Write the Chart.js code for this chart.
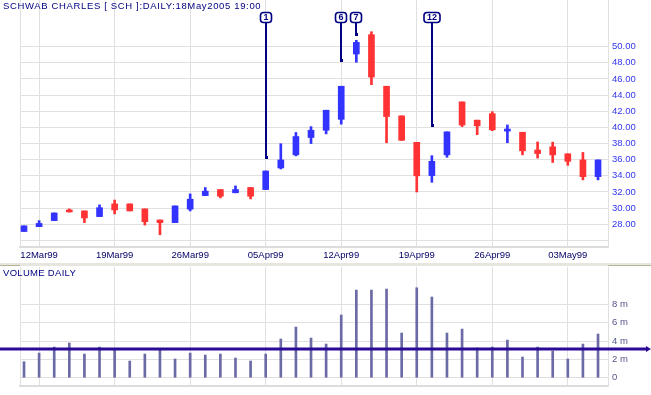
<!DOCTYPE html>
<html>
<head>
<meta charset="utf-8">
<script src="https://cdn.jsdelivr.net/npm/chart.js@4/dist/chart.umd.min.js"></script>
<style>
  body { margin: 0; background: #fff; }
  #wrap { position: relative; width: 651px; height: 395px; overflow: hidden; }
  #price { position: absolute; left: 0; top: 0; }
  #volume { position: absolute; left: 0; top: 263px; }
</style>
</head>
<body>
<div id="wrap">
  <canvas id="price" width="651" height="263"></canvas>
  <canvas id="volume" width="651" height="132"></canvas>
</div>
<script>
// dados (11Mar99 .. 05May99)
const opens  = [27.1, 27.7, 28.45, 29.74, 29.65, 28.95, 30.52, 30.52, 29.9, 28.53,
                28.2, 29.87, 31.55, 32.3, 31.9, 32.55, 32.3, 34.98, 36.6, 38.75,
                39.65, 41.0, 49.1, 51.49, 45.1, 41.43, 38.15, 34.03, 36.6, 43.16,
                40.9, 41.7, 39.54, 39.4, 37.2, 37.6, 36.73, 35.97, 33.9];
const highs  = [27.8, 28.45, 29.4, 29.9, 29.65, 30.4, 31.0, 30.52, 29.9, 28.53,
                30.27, 31.76, 32.55, 32.3, 32.75, 32.55, 34.6, 37.98, 39.37, 40.1,
                42.13, 45.1, 50.8, 51.86, 45.1, 41.43, 38.15, 36.5, 39.45, 43.16,
                40.9, 41.95, 40.3, 39.4, 38.2, 38.17, 36.73, 36.9, 35.97];
const lows   = [27.1, 27.7, 28.45, 29.5, 28.2, 28.95, 29.28, 29.65, 27.9, 26.7,
                28.2, 29.65, 31.55, 31.27, 31.9, 31.14, 32.3, 34.85, 36.47, 38.0,
                39.2, 40.4, 48.07, 45.3, 38.1, 38.4, 32.0, 33.2, 36.3, 40.1,
                39.1, 39.6, 38.1, 36.6, 36.2, 35.65, 35.3, 33.5, 33.5];
const closes = [27.8, 28.1, 29.4, 29.53, 28.78, 30.05, 29.77, 29.65, 28.32, 28.2,
                30.27, 31.1, 32.1, 31.47, 32.3, 31.47, 34.6, 35.97, 38.87, 39.65,
                42.13, 45.1, 50.54, 46.24, 41.35, 38.4, 34.0, 35.8, 39.45, 40.3,
                40.2, 39.7, 39.8, 37.1, 36.76, 36.6, 35.8, 33.9, 35.97];
// volume em milhoes
const volumes = [1.74, 2.69, 3.34, 3.78, 2.58, 3.34, 3.13, 1.82, 2.58, 3.09,
                 2.04, 2.69, 2.47, 2.58, 2.15, 1.82, 2.58, 4.22, 5.52, 4.32,
                 3.67, 6.83, 9.55, 9.55, 9.66, 4.87, 9.8, 8.79, 4.87, 5.3,
                 3.24, 3.34, 4.1, 2.25, 3.34, 2.91, 2.04, 3.67, 4.76];
const volumeMedia = 3.13;

const tickIdx    = [1, 6, 11, 16, 21, 26, 31, 36];
const dateLabels = ['12Mar99', '19Mar99', '26Mar99', '05Apr99', '12Apr99', '19Apr99', '26Apr99', '03May99'];
const priceTicks = [26, 28, 30, 32, 34, 36, 38, 40, 42, 44, 46, 48, 50];
const volTicks   = [0, 2, 4, 6, 8];

// marcadores numerados
const markerLabels = ['1', '6', '7', '12'];
const markerIdx    = [16, 21, 22, 27];
const markerPrices = [36.1, 48.06, 51.3, 40.0];

const titulo = 'SCHWAB CHARLES [ SCH ]:DAILY:18May2005 19:00';

const AZUL = '#3333ff';
const VERMELHO = '#ff3333';
const GRADE = '#e0e0e0';
const FONTE = '"Liberation Sans", Arial, sans-serif';

const idx = opens.map((_, i) => i);
const cores = idx.map(i => closes[i] >= opens[i] ? AZUL : VERMELHO);

const xMin = -0.265, xMax = 38.66;

function eixoX(mostrar) {
    return {
        type: 'linear',
        min: xMin,
        max: xMax,
        offset: false,
        afterBuildTicks: ax => { ax.ticks = tickIdx.map(v => ({ value: v })); },
        ticks: {
            display: mostrar,
            autoSkip: false,
            maxRotation: 0,
            padding: 3,
            color: '#000066',
            font: { family: FONTE, size: 9.5 },
            callback: v => dateLabels[tickIdx.indexOf(v)]
        },
        grid: { color: GRADE, offset: false, drawTicks: false },
        border: { color: '#dcdcdc', width: 2 },
        afterFit: ax => {
            ax.height = mostrar ? 16 : 9;
            ax.paddingLeft = 0; ax.paddingRight = 0;
        }
    };
}

function eixoY(cfg) {
    return Object.assign({
        position: 'right',
        beginAtZero: false,
        grid: { color: GRADE, drawTicks: false },
        border: { color: GRADE, width: 1 },
        afterFit: ax => {
            ax.width = 43;
            ax.paddingTop = 0; ax.paddingBottom = 0;
        }
    }, cfg);
}

// linha da borda esquerda
const bordaEsquerda = {
    id: 'bordaEsquerda',
    beforeDatasetsDraw(chart) {
        const { ctx, chartArea } = chart;
        ctx.save();
        ctx.strokeStyle = GRADE;
        ctx.lineWidth = 1;
        ctx.beginPath();
        ctx.moveTo(chartArea.left + 0.5, chartArea.top);
        ctx.lineTo(chartArea.left + 0.5, chartArea.bottom);
        ctx.stroke();
        ctx.restore();
    }
};

const tituloPlugin = {
    id: 'tituloPlugin',
    afterDraw(chart) {
        const ctx = chart.ctx;
        ctx.save();
        ctx.font = '9.5px ' + FONTE;
        ctx.letterSpacing = '0.65px';
        ctx.fillStyle = '#000080';
        ctx.textBaseline = 'top';
        ctx.fillText(titulo, 3, 2);
        ctx.restore();
    }
};

const marcadores = {
    id: 'marcadores',
    afterDatasetsDraw(chart) {
        const { ctx, scales: { x, y } } = chart;
        ctx.save();
        markerIdx.forEach((ix, k) => {
            const px = Math.round(x.getPixelForValue(ix));
            const py = Math.round(y.getPixelForValue(markerPrices[k]));
            ctx.strokeStyle = '#000080';
            ctx.fillStyle = '#000080';
            ctx.lineWidth = 2;
            ctx.beginPath();
            ctx.moveTo(px, 22);
            ctx.lineTo(px, py);
            ctx.stroke();
            ctx.fillRect(px - 1, py - 3, 3, 3);

            ctx.font = 'bold 9px ' + FONTE;
            const w = Math.max(11, ctx.measureText(markerLabels[k]).width + 6);
            ctx.beginPath();
            ctx.roundRect(px - w / 2, 12.5, w, 10, 3);
            ctx.fillStyle = '#ffffff';
            ctx.fill();
            ctx.lineWidth = 1.6;
            ctx.stroke();
            ctx.fillStyle = '#000080';
            ctx.textAlign = 'center';
            ctx.textBaseline = 'middle';
            ctx.fillText(markerLabels[k], px, 18);
        });
        ctx.restore();
    }
};

new Chart(document.getElementById('price'), {
    type: 'bar',
    data: {
        datasets: [
            {
                label: 'pavio',
                data: idx.map(i => ({ x: i, y: [lows[i], highs[i]] })),
                backgroundColor: cores,
                barThickness: 2,
                grouped: false,
                order: 2
            },
            {
                label: 'corpo',
                data: idx.map(i => ({ x: i, y: [opens[i], closes[i]] })),
                backgroundColor: cores,
                barThickness: 6,
                minBarLength: 2,
                grouped: false,
                order: 1
            }
        ]
    },
    options: {
        responsive: false,
        animation: false,
        layout: { padding: { left: 20, top: 0, right: 0, bottom: 0 } },
        plugins: { legend: { display: false }, tooltip: { enabled: false } },
        scales: {
            x: eixoX(true),
            y: eixoY({
                min: 25.18,
                max: 55.79,
                afterBuildTicks: ax => { ax.ticks = priceTicks.map(v => ({ value: v })); },
                ticks: {
                    padding: 4,
                    color: '#3333ee',
                    font: { family: FONTE, size: 9.5 },
                    callback: v => v === 26 ? '' : v.toFixed(2)
                }
            })
        }
    },
    plugins: [bordaEsquerda, marcadores, tituloPlugin]
});

const volumePlugin = {
    id: 'volumePlugin',
    afterDraw(chart) {
        const { ctx, chartArea, scales: { y } } = chart;
        ctx.save();
        // faixa separadora
        ctx.fillStyle = '#e6e6de';
        ctx.fillRect(0, 0, chart.width, 3);
        ctx.fillStyle = '#b4b496';
        ctx.fillRect(0, 2, chartArea.left, 1);
        ctx.fillRect(chartArea.right, 2, chart.width - chartArea.right, 1);
        // linha media
        const yy = Math.round(y.getPixelForValue(volumeMedia));
        ctx.strokeStyle = '#2a0a96';
        ctx.lineWidth = 3;
        ctx.beginPath();
        ctx.moveTo(0, yy);
        ctx.lineTo(chart.width - 3, yy);
        ctx.stroke();
        ctx.fillStyle = '#2a0a96';
        ctx.beginPath();
        ctx.moveTo(chart.width - 5, yy - 3);
        ctx.lineTo(chart.width, yy);
        ctx.lineTo(chart.width - 5, yy + 3);
        ctx.fill();
        // titulo
        ctx.font = '9.5px ' + FONTE;
        ctx.letterSpacing = '0.3px';
        ctx.fillStyle = '#000080';
        ctx.textBaseline = 'top';
        ctx.fillText('VOLUME DAILY', 3, 6);
        ctx.restore();
    }
};

new Chart(document.getElementById('volume'), {
    type: 'bar',
    data: {
        datasets: [{
            label: 'Volume',
            data: idx.map(i => ({ x: i, y: volumes[i] })),
            backgroundColor: '#6a6aa6',
            barThickness: 2,
            grouped: false
        }]
    },
    options: {
        responsive: false,
        animation: false,
        layout: { padding: { left: 20, top: 4, right: 0, bottom: 0 } },
        plugins: { legend: { display: false }, tooltip: { enabled: false } },
        scales: {
            x: eixoX(false),
            y: eixoY({
                min: -0.9,
                max: 12.06,
                afterBuildTicks: ax => { ax.ticks = volTicks.map(v => ({ value: v })); },
                ticks: {
                    padding: 4,
                    color: '#55558c',
                    font: { family: FONTE, size: 9.5 },
                    callback: v => v === 0 ? '0' : v + ' m'
                }
            })
        }
    },
    plugins: [bordaEsquerda, volumePlugin]
});
</script>
</body>
</html>
